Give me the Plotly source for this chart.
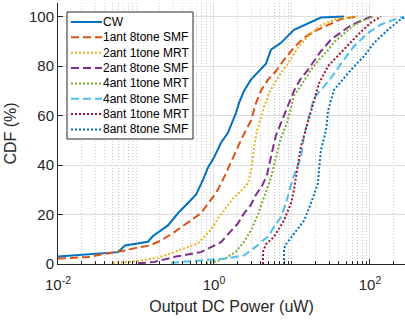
import plotly.graph_objects as go

# ---------------- data ----------------
names = ["CW", "1ant 8tone SMF", "2ant 1tone MRT", "2ant 8tone SMF",
         "4ant 1tone MRT", "4ant 8tone SMF", "8ant 1tone MRT", "8ant 8tone SMF"]

cw_x = [0.01, 0.0265, 0.0588, 0.0723, 0.1425, 0.165, 0.257, 0.345, 0.464, 0.588, 0.723,
        0.838, 1.0, 1.23, 1.51, 1.91, 2.09, 2.43, 2.98, 3.66, 4.64, 5.38, 7.23, 10.6,
        17.5, 23.5, 46.4]
cw_y = [3, 4, 4.8, 7.5, 9, 11.3, 15.6, 20.5, 24.5, 28, 34, 39, 43, 49, 53, 61, 65, 70,
        74.5, 77.7, 81, 86.6, 89.4, 94.7, 97.7, 99.6, 100]

a1t8_x = [0.01, 0.0243, 0.0356, 0.0538, 0.0745, 0.106, 0.151, 0.209, 0.307, 0.464, 0.681,
          0.838, 1.06, 1.30, 1.65, 1.97, 2.29, 2.98, 3.45, 4.0, 4.92, 6.24, 7.89, 10.6,
          14.3, 19.1, 29.0, 42.5, 66.2]
a1t8_y = [2.2, 2.8, 3.8, 4.6, 5.5, 6.7, 7.5, 9.5, 12.8, 16.8, 20.5, 24.5, 28.6, 34, 41,
          46, 51, 58, 65, 70, 74.5, 78, 82.5, 87.5, 91.5, 94, 96.5, 99, 100]

a2t1_x = [0.0507, 0.0789, 0.116, 0.191, 0.257, 0.307, 0.412, 0.624, 0.744, 0.915, 1.16,
          1.43, 1.75, 2.22, 2.73, 3.07, 3.26, 3.56, 4.0, 4.38, 5.07, 6.62, 8.89, 11.9,
          16.0, 23.5, 36.7, 66.2]
a2t1_y = [0.5, 0.8, 1.4, 2.6, 3.8, 4.8, 6.3, 8.3, 11, 14, 19, 23, 26.5, 29.5, 32.6, 40,
          47, 54, 60, 63.5, 69, 75.5, 81, 87.5, 92, 96.5, 99, 100]

a2t8_x = [0.106, 0.170, 0.326, 0.507, 0.681, 0.915, 1.23, 1.56, 2.03, 2.43, 2.98, 3.45,
          4.12, 4.78, 5.22, 5.71, 6.24, 7.67, 10.6, 13.0, 16.0, 23.5, 31.6, 53.8, 72.3, 103]
a2t8_y = [0.3, 0.8, 3, 4, 4.8, 6.8, 8.8, 12.5, 16.4, 20.5, 24, 28, 31.5, 36, 42, 47, 52,
          59, 70, 75, 78.5, 86, 90.7, 96, 98, 100]

a4t1_x = [0.789, 1.06, 1.43, 1.91, 2.43, 2.98, 3.66, 4.25, 4.92, 5.38, 5.88, 6.42, 7.23,
          8.63, 10.6, 14.3, 17.5, 22.2, 29.0, 36.7, 46.4, 62.4, 81.3, 109]
a4t1_y = [0.3, 1, 2.5, 5, 9, 13.6, 20, 26, 31, 35, 40, 45, 51, 57, 68, 74, 78.5, 82.5,
          86.5, 90.5, 93, 96.5, 98.5, 100]

a4t8_x = [0.281, 0.789, 1.43, 2.43, 3.45, 4.25, 4.92, 5.88, 7.23, 8.63, 9.71, 11.2, 13.0,
          14.3, 16.5, 19.1, 23.5, 29.8, 42.5, 62.4, 94.3, 138, 203, 273]
a4t8_y = [0.5, 1.4, 2.2, 3.5, 7, 9.5, 11, 15, 19, 26, 32, 38, 43, 52, 60, 67, 70.4, 74,
          81, 88, 93.4, 96.8, 98.8, 100]

a8t1_x = [4.25, 4.25, 4.64, 5.88, 7.89, 9.71, 10.6, 11.9, 13.0, 14.3, 17.5, 22.2, 29.0,
          42.5, 70.2, 103, 138]
a8t1_y = [0, 5, 8, 11, 17.6, 24.5, 30, 40.7, 47.4, 52, 62, 73, 80, 85.4, 92.7, 97.6, 100]

a8t8_x = [7.89, 7.89, 8.38, 10.6, 14.3, 17.5, 21.5, 22.2, 23.5, 27.3, 29.0, 34.6, 57.1,
          83.8, 113, 170, 250, 298]
a8t8_y = [0, 6, 8, 12.3, 17.6, 24.5, 32.6, 38, 46, 54, 62, 70.4, 78.5, 84, 89.4, 94.7,
          99, 100]

series_x = [cw_x, a1t8_x, a2t1_x, a2t8_x, a4t1_x, a4t8_x, a8t1_x, a8t8_x]
series_y = [cw_y, a1t8_y, a2t1_y, a2t8_y, a4t1_y, a4t8_y, a8t1_y, a8t8_y]

x_tickvals = [0.01, 1, 100]
x_ticktext = ["10<sup>-2</sup>", "10<sup>0</sup>", "10<sup>2</sup>"]
y_tickvals = [0, 20, 40, 60, 80, 100]

# ---------------- styles ----------------
colors = ["#0072BD", "#D95319", "#EDB120", "#7E2F8E", "#77AC30", "#4DBEEE", "#A2142F", "#0072BD"]
DASH = "8px,4px"
DOT = "2px,2px"
dashes = ["solid", DASH, DOT, DASH, DOT, DASH, DOT, DOT]

FONT = "Liberation Sans, Arial, sans-serif"
AX = "#262626"
XR = [-2, 2.449]

W, H = 405, 322
ML, MR, MT, MB = 58, 0, 3, 58
PW, PH = W - ML - MR, H - MT - MB

minor_vals = [m * 10.0 ** k for k in range(-2, 3) for m in range(1, 10)
              if not (m == 1 and k in (-2, 0, 2))]
minor_vals = [v for v in minor_vals if v < 10 ** XR[1]]
all_vals = sorted(minor_vals + x_tickvals)

fig = go.Figure()
for nm, xs, ys, c, d in zip(names, series_x, series_y, colors, dashes):
    fig.add_trace(go.Scatter(x=xs, y=ys, mode="lines", name=nm, showlegend=False,
                             line=dict(color=c, width=2, dash=d)))


def xp(px):
    return (px - ML) / PW


def yp(py):
    return (MT + PH - py) / PH


# ---- legend box drawn as a MATLAB-style inset (compact row spacing) ----
LX0, LX1, LY0, LY1 = 67, 193, 12, 139
ROW0, ROWSTEP = 22, 15.35
shapes = [dict(type="rect", xref="paper", yref="paper", x0=xp(LX0), x1=xp(LX1),
               y0=yp(LY1), y1=yp(LY0), fillcolor="white",
               line=dict(color=AX, width=1), layer="above")]
annotations = []
for i, (nm, c, d) in enumerate(zip(names, colors, dashes)):
    py = ROW0 + ROWSTEP * i
    shapes.append(dict(type="line", xref="paper", yref="paper", x0=xp(71), x1=xp(102),
                       y0=yp(py), y1=yp(py), line=dict(color=c, width=2, dash=d),
                       layer="above"))
    annotations.append(dict(text=nm, xref="paper", yref="paper", x=xp(101.5), y=yp(py),
                            xanchor="left", yanchor="middle", showarrow=False,
                            font=dict(size=12, family=FONT, color="black"), borderpad=0))

fig.update_layout(
    width=W, height=H,
    margin=dict(l=ML, r=MR, t=MT, b=MB),
    paper_bgcolor="white", plot_bgcolor="white",
    font=dict(family=FONT, color="#262626", size=15),
    xaxis=dict(type="log", range=XR, tickvals=x_tickvals, ticktext=x_ticktext,
               ticks="inside", ticklen=5, tickcolor=AX, showline=True, linecolor=AX,
               linewidth=1, showgrid=True, gridcolor="#dedede", gridwidth=1,
               zeroline=False, tickfont=dict(size=15), ticklabelstandoff=7,
               minor=dict(tickvals=minor_vals, ticks="inside", ticklen=3, tickcolor=AX,
                          showgrid=True, gridcolor="#c9c9c9", griddash="1px,2px",
                          gridwidth=1),
               title=dict(text="Output DC Power (uW)", font=dict(size=16), standoff=8)),
    xaxis3=dict(type="log", range=XR, overlaying="x", anchor="y", side="top",
                tickvals=all_vals, ticks="inside", ticklen=3, tickcolor=AX,
                showticklabels=False, showgrid=False, showline=True, linecolor=AX,
                linewidth=1, zeroline=False),
    yaxis=dict(range=[0, 105.5], tickvals=y_tickvals, ticks="inside", ticklen=5,
               tickcolor=AX, showline=True, linecolor=AX, linewidth=1, showgrid=True,
               gridcolor="#dedede", gridwidth=1, zeroline=False, tickfont=dict(size=15),
               title=dict(text="CDF (%)", font=dict(size=16), standoff=8)),
    shapes=shapes,
    annotations=annotations,
    showlegend=False,
)

fig.write_html("out.html")
